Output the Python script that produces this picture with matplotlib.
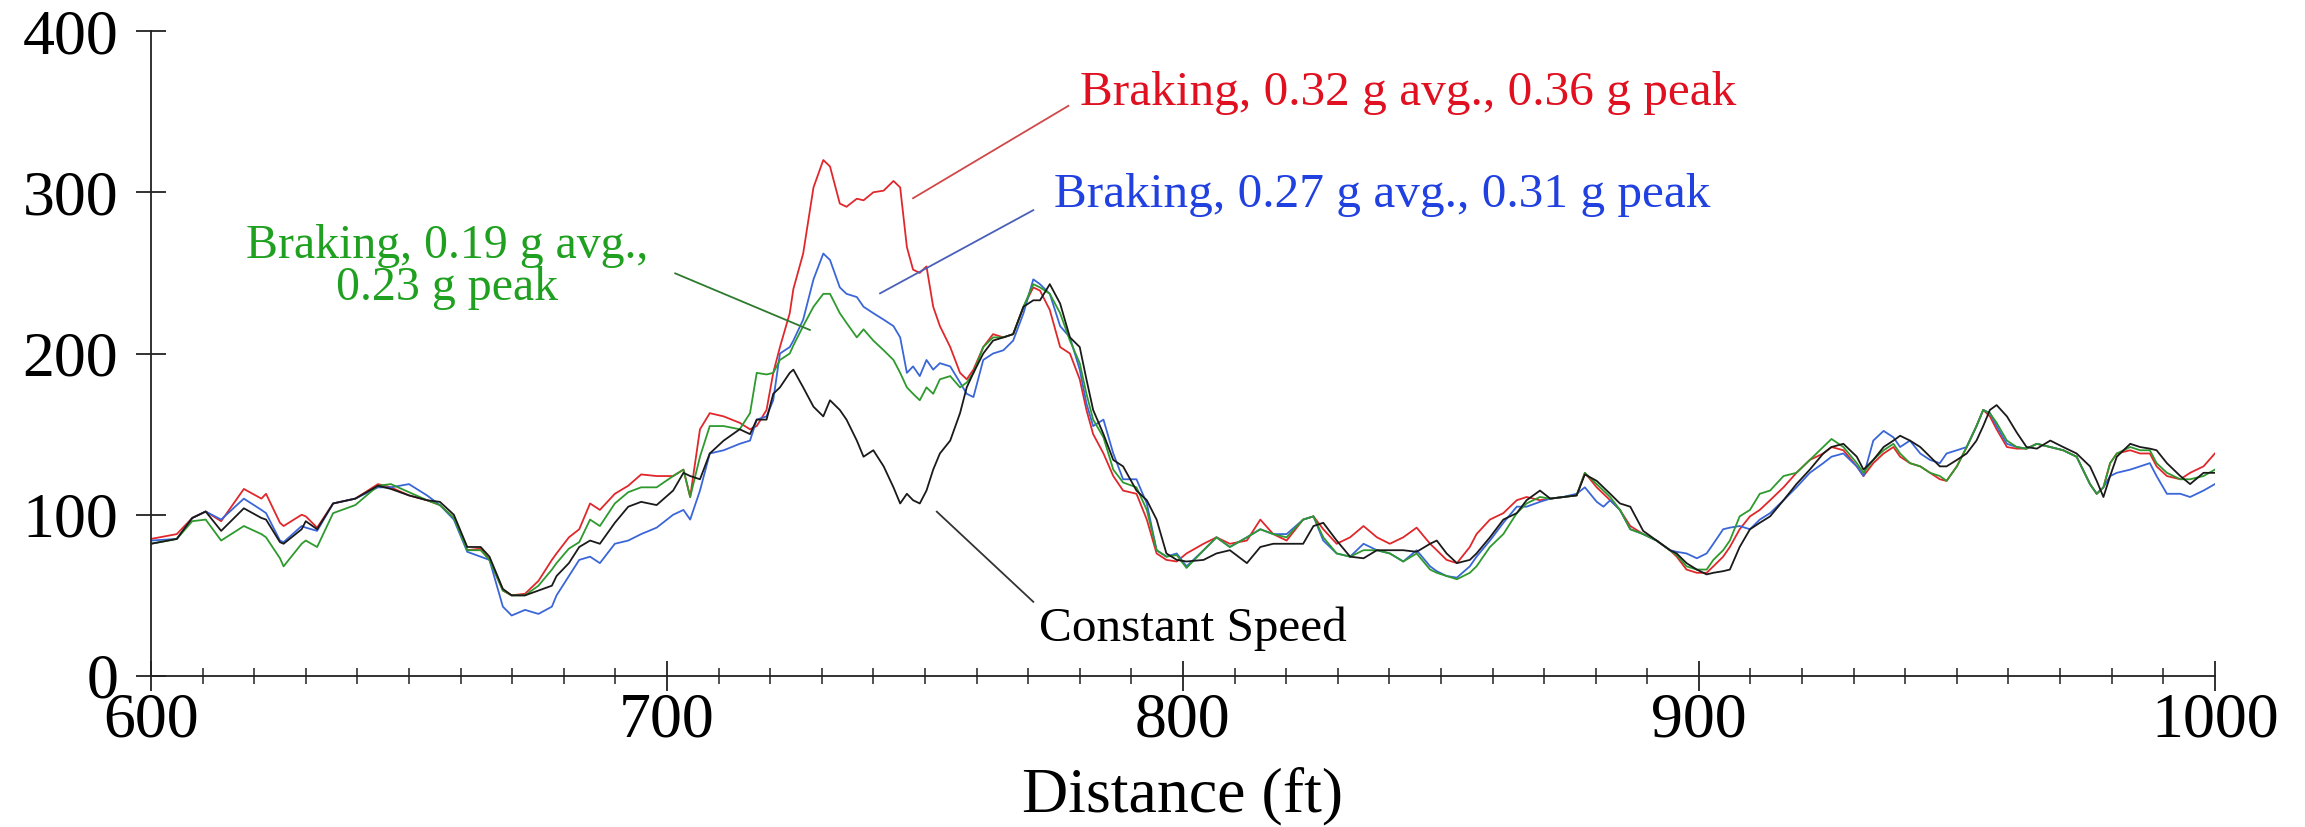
import matplotlib
matplotlib.use("Agg")
import matplotlib.pyplot as plt
from matplotlib.ticker import MultipleLocator

plt.rcParams['font.family'] = ['Liberation Serif', 'DejaVu Serif']

# ---- data ----
distance = [600, 605, 608, 610.6, 613.6, 618, 621.4, 622.3, 625, 625.7, 629.2, 630, 632.2,
            635.3, 639.6, 644, 646.5, 650, 653.5, 656, 658.7, 661.3, 663.9, 665.6, 668.2,
            669.9, 672.5, 675.1, 677.7, 678.6, 681, 683, 685.1, 687, 689.9, 692.5, 695, 698,
            701.2, 703.2, 704.5, 706.4, 708.3, 711, 714.1, 716.1, 717.4, 719.3, 720.6, 721.9,
            723.8, 724.5, 726.4, 728.4, 730.3, 731.6, 733.5, 734.8, 736.8, 738.1, 740, 742,
            743.9, 745.2, 746.5, 747.7, 749, 750.3, 751.6, 752.9, 754.9, 756.8, 758.1, 759.4,
            761.3, 763.2, 765.2, 767.1, 769.1, 771, 772.3, 774.2, 776.2, 778.1, 780, 781.3,
            782.6, 784.6, 786.5, 788.4, 791, 793, 794.9, 796.8, 798.8, 800.7, 804, 806.5,
            809.1, 812.4, 815, 817.5, 820.1, 823.3, 825.3, 827.2, 829.8, 832.4, 835, 837.6,
            840.1, 842.7, 845.3, 847.9, 849.2, 851.1, 853.1, 855.6, 856.9, 859.5, 862.1, 864.7,
            866.6, 869.2, 871.2, 873.7, 876.3, 877.9, 880.2, 881.5, 882.8, 884.7, 886.7, 889.2,
            891.8, 894.4, 895.7, 897.6, 899.6, 901.5, 902.8, 904.7, 906, 907.9, 909.9, 911.8,
            913.8, 916.4, 918.9, 921.5, 924.1, 925.7, 928, 930.6, 931.9, 933.8, 935.8, 937.7,
            939, 940.9, 942.9, 944.8, 946.7, 948, 950, 951.9, 953.8, 955.1, 956.4, 957.7,
            959.7, 961.6, 963.5, 965.5, 968.1, 970.6, 973.2, 975.8, 977.1, 978.4, 979.7, 981,
            983.6, 985.5, 987.4, 988.7, 990.7, 993.3, 995.2, 997.8, 1000]

braking_032 = [85, 88, 98, 102, 96, 116, 110, 113, 95, 93, 100, 99, 92,
               107, 110, 119, 117, 112, 109, 106, 98, 78, 79, 72, 53,
               50, 51, 59, 72, 76, 86, 91, 107, 103, 113, 118, 125, 124,
               124, 128, 111, 153, 163, 161, 157, 153, 155, 165, 188, 204,
               225, 240, 262, 303, 320, 316, 293, 291, 296, 295, 300, 301,
               307, 303, 266, 252, 250, 254, 229, 217, 204, 188, 184, 190,
               204, 212, 210, 212, 229, 241, 239, 227, 204, 200, 184, 165,
               150, 138, 124, 115, 113, 97, 76, 72, 71, 76, 82, 86,
               82, 84, 97, 88, 84, 97, 99, 91, 82, 86, 93, 86,
               82, 86, 92, 82, 78, 72, 70, 80, 88, 97, 101, 109,
               111, 109, 110, 111, 112, 126, 117, 113, 109, 103, 93, 88,
               84, 78, 74, 66, 64, 64, 68, 74, 80, 91, 99, 103,
               109, 117, 126, 134, 138, 142, 140, 130, 124, 132, 138, 142,
               136, 132, 130, 126, 122, 121, 130, 142, 155, 165, 161, 153,
               142, 141, 141, 144, 142, 140, 136, 119, 113, 117, 132, 138,
               140, 138, 138, 130, 124, 122, 126, 130, 138]

braking_027 = [84, 85, 98, 102, 97, 110, 103, 101, 84, 83, 93, 92, 90,
               107, 110, 117, 117, 119, 112, 106, 97, 77, 74, 72, 43,
               37.5, 41, 38.5, 43, 50, 62, 72, 74, 70, 82, 84, 88, 92,
               100, 103, 97, 115, 138, 140, 144, 146, 159, 161, 171, 200,
               204, 208, 221, 246, 262, 258, 241, 237, 235, 229, 225, 221,
               217, 210, 188, 192, 186, 196, 190, 194, 192, 182, 175, 173,
               196, 200, 202, 208, 225, 246, 243, 237, 217, 210, 190, 169,
               155, 159, 138, 122, 122, 107, 78, 74, 76, 68, 78, 86,
               80, 86, 91, 88, 88, 97, 99, 84, 76, 74, 82, 78,
               76, 71, 78, 68, 65, 62, 61, 68, 74, 84, 95, 105,
               105, 108, 110, 111, 113, 117, 108, 105, 109, 103, 91, 88,
               84, 78, 77, 76, 73, 76, 82, 91, 92, 93, 91, 97,
               101, 109, 117, 126, 132, 136, 138, 130, 124, 146, 152, 148,
               142, 146, 138, 134, 132, 138, 140, 142, 155, 165, 163, 155,
               144, 142, 141, 144, 142, 140, 136, 119, 113, 117, 124, 126,
               128, 130, 132, 124, 113, 113, 111, 115, 119]

braking_019 = [82, 85, 96, 97, 84, 93, 88, 86, 73, 68, 82, 84, 80,
               101, 106, 118, 119, 114, 109, 106, 98, 78, 78, 72, 53,
               50, 50, 56, 66, 70, 79, 83, 97, 93, 107, 114, 117, 117,
               124, 128, 111, 136, 155, 155, 153, 163, 188, 187, 188, 196,
               200, 205, 217, 229, 237, 237, 225, 219, 210, 215, 208, 202,
               196, 188, 179, 175, 171, 179, 175, 184, 186, 179, 182, 188,
               204, 210, 210, 212, 229, 243, 241, 237, 225, 208, 194, 175,
               159, 148, 128, 120, 117, 103, 78, 74, 75, 67, 78, 86,
               80, 86, 91, 88, 86, 97, 99, 86, 76, 74, 78, 78,
               76, 71, 76, 66, 64, 62, 60, 64, 68, 80, 88, 101,
               107, 111, 110, 111, 112, 126, 119, 115, 111, 103, 91, 88,
               84, 78, 75, 68, 66, 66, 72, 78, 84, 99, 103, 113,
               115, 124, 126, 134, 142, 147, 142, 132, 126, 134, 140, 144,
               138, 132, 130, 126, 124, 121, 130, 142, 155, 165, 163, 157,
               146, 142, 141, 144, 142, 140, 136, 119, 113, 117, 132, 138,
               142, 140, 140, 132, 126, 122, 122, 124, 128]

constant_speed = [82, 85, 98, 102, 90, 104, 98, 97, 83, 82, 91, 96, 91,
                  107, 110, 118, 116, 112, 109, 108, 100, 80, 80, 74, 54,
                  50, 50, 53, 56, 62, 70, 80, 84, 82, 95, 105, 108, 106,
                  115, 126, 124, 122, 138, 146, 153, 150, 159, 159, 175, 179,
                  188, 190, 179, 167, 161, 171, 165, 159, 146, 136, 140, 130,
                  117, 107, 113, 109, 107, 115, 128, 138, 146, 163, 179, 188,
                  200, 208, 210, 212, 229, 233, 233, 243, 231, 210, 204, 184,
                  165, 150, 134, 130, 115, 109, 97, 76, 72, 71, 72, 76,
                  78, 70, 80, 82, 82, 82, 93, 95, 84, 74, 73, 78,
                  78, 78, 77, 82, 84, 76, 70, 72, 76, 86, 97, 101,
                  109, 115, 110, 111, 112, 125, 121, 117, 113, 107, 105, 90,
                  84, 78, 76, 70, 66, 63, 64, 65, 66, 80, 91, 95,
                  99, 109, 119, 128, 138, 142, 144, 136, 128, 134, 142, 146,
                  149, 146, 142, 136, 130, 130, 134, 138, 146, 155, 165, 168,
                  161, 151, 142, 141, 146, 142, 138, 130, 121, 111, 124, 136,
                  144, 142, 141, 140, 132, 124, 119, 126, 126]

series = [
    (braking_032, '#e0282c'),
    (braking_027, '#3a66d8'),
    (braking_019, '#2e9a2e'),
    (constant_speed, '#1a1a1a'),
]

labels = ["Braking, 0.32 g avg., 0.36 g peak",
          "Braking, 0.27 g avg., 0.31 g peak",
          "Braking, 0.19 g avg.,\n0.23 g peak",
          "Constant Speed"]

x_ticks = [600, 700, 800, 900, 1000]
y_ticks = [0, 100, 200, 300, 400]
x_label = "Distance (ft)"

# ---- figure ----
fig = plt.figure(figsize=(23.05, 8.27), dpi=100)
ax = fig.add_axes([0.0655, 0.1826, 0.8954, 0.7799])

for vals, col in series:
    ax.plot(distance, vals, color=col, lw=1.3)

ax.set_xlim(600, 1000)
ax.set_ylim(0, 400)
ax.set_xticks(x_ticks)
ax.set_yticks(y_ticks)
ax.xaxis.set_minor_locator(MultipleLocator(10))
for s in ['top', 'right']:
    ax.spines[s].set_visible(False)
for s in ['left', 'bottom']:
    ax.spines[s].set_linewidth(1.3)
    ax.spines[s].set_color('#222222')

ax.tick_params(axis='both', which='major', direction='inout', length=21, width=1.3,
               labelsize=46, colors='#222222', labelcolor='black')
ax.tick_params(axis='x', which='major', pad=1.5)
ax.tick_params(axis='y', which='major', pad=13)
ax.tick_params(axis='x', which='minor', direction='inout', length=11, width=1.1, colors='#222222')
ax.set_xlabel(x_label, fontsize=46, labelpad=12)

fs = 35.5
ax.text(780.1, 361.8, labels[0], color='#e01020', fontsize=fs, ha='left', va='center')
ax.plot([747.7, 777.8], [296.3, 353.6], color='#d04848', lw=1.3)

ax.text(775.0, 298, labels[1], color='#2040e0', fontsize=fs, ha='left', va='center')
ax.plot([741.3, 771.0], [237.3, 288.9], color='#4a60b8', lw=1.3)

ax.text(657.4, 253.5, labels[2], color='#20a020', fontsize=34.5, ha='center', va='center',
        multialignment='center', linespacing=0.95)
ax.plot([701.6, 727.7], [249.7, 214.6], color='#2e7a2e', lw=1.3)

ax.text(802, 29, labels[3], color='black', fontsize=fs, ha='center', va='center')
ax.plot([752.3, 771.0], [101.9, 46.0], color='#333333', lw=1.3)

fig.savefig('out.png', dpi=100)
